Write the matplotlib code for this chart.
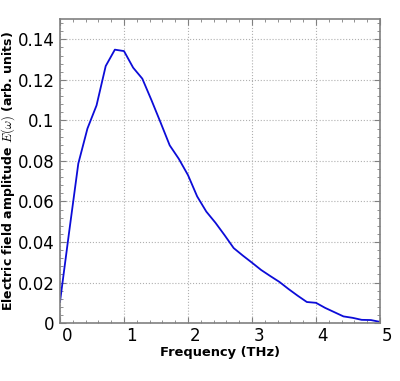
import matplotlib
matplotlib.use("Agg")
import matplotlib.pyplot as plt
import matplotlib.transforms as mtransforms
from matplotlib.ticker import AutoMinorLocator

# frequency axis (THz) and spectral amplitude
freq = [0.0, 0.143, 0.286, 0.429, 0.571, 0.714, 0.857, 1.0, 1.143, 1.286,
        1.429, 1.571, 1.714, 1.857, 2.0, 2.143, 2.286, 2.429, 2.571, 2.714,
        2.857, 3.0, 3.143, 3.286, 3.429, 3.571, 3.714, 3.857, 4.0, 4.143,
        4.286, 4.429, 4.571, 4.714, 4.857, 5.0]
amp = [0.0105, 0.045, 0.0787, 0.096, 0.1074, 0.1268, 0.1349, 0.1342, 0.126, 0.1206,
       0.110, 0.099, 0.0877, 0.081, 0.073, 0.0625, 0.055, 0.0495, 0.0434, 0.037,
       0.0333, 0.0298, 0.0262, 0.0232, 0.0203, 0.0168, 0.0135, 0.0104, 0.0100, 0.0075,
       0.0054, 0.0033, 0.0026, 0.0016, 0.0015, 0.0006]

xticks = [0, 1, 2, 3, 4, 5]
xticklabels = ['0', '1', '2', '3', '4', '5']
yticks = [0, 0.02, 0.04, 0.06, 0.08, 0.1, 0.12, 0.14]
yticklabels = ['0', '0.02', '0.04', '0.06', '0.08', '0.1', '0.12', '0.14']

plt.rcParams['mathtext.fontset'] = 'cm'

fig = plt.figure(figsize=(4, 3.81), dpi=100)
ax = fig.add_axes([0.15, 0.152, 0.80, 0.798])

ax.plot(freq, amp, color='#0c0cd8', lw=1.3)

ax.set_xlim(0, 5)
ax.set_ylim(0, 0.15)
ax.set_xticks(xticks)
ax.set_xticklabels(xticklabels)
ax.set_yticks(yticks)
ax.set_yticklabels(yticklabels)
ax.xaxis.set_minor_locator(AutoMinorLocator(5))
ax.yaxis.set_minor_locator(AutoMinorLocator(5))

ax.grid(True, which='major', color='#b0b0b0', linestyle=':', linewidth=0.8)
ax.tick_params(which='both', direction='in', top=True, right=True,
               color='#808080', labelsize=12)
ax.tick_params(which='major', length=4, width=0.8)
ax.tick_params(which='minor', length=2, width=0.6)
ax.tick_params(axis='y', pad=4)
ax.tick_params(axis='x', pad=3)
for s in ax.spines.values():
    s.set_color('#808080')
    s.set_linewidth(1.2)

# x tick labels in the reference sit a little to the right of their ticks
offset = mtransforms.ScaledTranslation(0.07, 0, fig.dpi_scale_trans)
for lab in ax.get_xticklabels():
    lab.set_transform(lab.get_transform() + offset)

ax.set_xlabel('Frequency (THz)', fontsize=9.4, fontweight='bold', labelpad=0.5)
ax.set_ylabel(r'Electric field amplitude $E(\omega)$ (arb. units)',
              fontsize=9, fontweight='bold')
ax.yaxis.set_label_coords(-0.134, 0.5)

fig.savefig('out.png', dpi=100)
